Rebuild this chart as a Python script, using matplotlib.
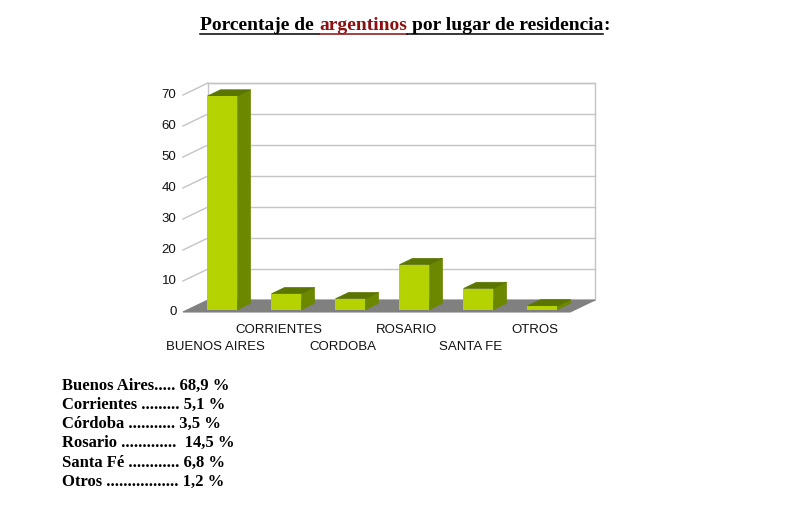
import matplotlib
matplotlib.use("Agg")
import matplotlib.pyplot as plt
from matplotlib.patches import Polygon, Rectangle

# ---- data ----
categories = ["BUENOS AIRES", "CORRIENTES", "CORDOBA", "ROSARIO", "SANTA FE", "OTROS"]
values = [68.9, 5.1, 3.5, 14.5, 6.8, 1.2]
yticks = [0, 10, 20, 30, 40, 50, 60, 70]
list_names = ["Buenos Aires", "Corrientes", "Córdoba", "Rosario", "Santa Fé", "Otros"]
list_seps = [".....", " .........", " ...........", " ............. ", " ............", " ................."]
title_parts = ["Porcentaje de", "argentinos", "por lugar de residencia", ":"]
title_joins = ["", " ", " ", ""]

# ---- style ----
FRONT = "#b4d300"
SIDE = "#6b8800"
TOP = "#5a7500"
FLOOR = "#808080"
GRID = "#c4c4c4"
RED = "#8b1010"

W, H = 800, 509
fig = plt.figure(figsize=(W / 100, H / 100), dpi=100)
fig.patch.set_facecolor("white")

# axes placement: x_px = 217.5 + 64*x ; y_px(top) = 312 - 3.1*v
xlim = (-1.2, 6.2)
ylim = (-2.0, 76.0)
px0, sx = 217.5, 64.0
py0, sy = 312.0, 3.1
left_px = px0 + sx * xlim[0]
right_px = px0 + sx * xlim[1]
top_px = py0 - sy * ylim[1]
bot_px = py0 - sy * ylim[0]
ax = fig.add_axes([left_px / W, 1 - bot_px / H, (right_px - left_px) / W, (bot_px - top_px) / H])
ax.set_xlim(*xlim)
ax.set_ylim(*ylim)
ax.axis("off")

ddx, ddy = 25 / sx, 12 / sy      # full depth vector
xl, xr = -0.54, 5.51             # front plane extents
vmax = yticks[-1]

# back wall
ax.add_patch(Rectangle((xl + ddx, ddy), xr - xl, vmax, facecolor="white",
                       edgecolor=GRID, lw=1, zorder=1))
for t in yticks[1:]:
    ax.plot([xl + ddx, xr + ddx], [t + ddy, t + ddy], color=GRID, lw=1, zorder=1.5)
# left wall lines
for t in yticks[1:]:
    ax.plot([xl, xl + ddx], [t, t + ddy], color=GRID, lw=1, zorder=1.5)
# floor
ax.add_patch(Polygon([(xl, 0), (xr, 0), (xr + ddx, ddy), (xl + ddx, ddy)],
                     closed=True, facecolor=FLOOR, edgecolor=FLOOR, lw=0.8, zorder=2))

# y tick labels
for t in yticks:
    ax.text(xl - 0.1, t, str(t), ha="right", va="center", fontsize=9.5,
            family="Liberation Sans", color="#111111")

# bars
f, b = 0.2, 0.72
bw = 30 / sx
xs = [i + f * ddx for i in range(len(values))]
bars = ax.bar(xs, values, width=bw, bottom=f * ddy, color=FRONT, zorder=4, linewidth=0)
dx, dy = (b - f) * ddx, (b - f) * ddy
for rect in bars:
    x0 = rect.get_x()
    x1 = x0 + rect.get_width()
    y0 = rect.get_y()
    y1 = y0 + rect.get_height()
    ax.add_patch(Polygon([(x1, y0), (x1 + dx, y0 + dy), (x1 + dx, y1 + dy), (x1, y1)],
                         closed=True, facecolor=SIDE, edgecolor=SIDE, lw=0.5, zorder=3))
    ax.add_patch(Polygon([(x0, y1), (x1, y1), (x1 + dx, y1 + dy), (x0 + dx, y1 + dy)],
                         closed=True, facecolor=TOP, edgecolor=TOP, lw=0.5, zorder=3))

# category labels (staggered)
for i, c in enumerate(categories):
    yv = -5.8 if i % 2 == 1 else -11.3
    ax.text(i - 0.04, yv, c, ha="center", va="center", fontsize=9.5,
            family="Liberation Sans", color="#111111")

# ---- title with coloured word and underline ----
renderer = fig.canvas.get_renderer()
tfont = dict(family="Liberation Serif", weight="bold", fontsize=14)

def measure(s):
    t = fig.text(0, 0, s, **tfont)
    w = t.get_window_extent(renderer).width
    t.remove()
    return w

xw = measure("x")
offsets, ends = [], []
acc = ""
for p, j in zip(title_parts, title_joins):
    acc += j
    offsets.append(measure(acc + "x") - xw if acc else 0.0)
    acc += p
    ends.append(measure(acc))
total_w = ends[-1]
start = 405 - total_w / 2
ty = 25
colors = ["black", RED, "black", "black"]
for p, off, col in zip(title_parts, offsets, colors):
    fig.text((start + off) / W, 1 - ty / H, p, color=col, ha="left", va="center", **tfont)
# underline (not under the colon)
ul_y = 1 - (ty + 9) / H
segs = [(0.0, offsets[1], "black"), (offsets[1], ends[1], RED), (ends[1], ends[2], "black")]
for a, e, col in segs:
    fig.add_artist(plt.Line2D([(start + a) / W, (start + e) / W], [ul_y, ul_y], color=col, lw=1.1))

# ---- bottom list ----
row_y = [386, 405, 424, 443, 463, 482]
for name, sep, v, yy in zip(list_names, list_seps, values, row_y):
    s = f"{name}{sep} " + f"{v:.1f}".replace(".", ",") + " %"
    fig.text(62 / W, 1 - yy / H, s, ha="left", va="center", family="Liberation Serif",
             weight="bold", fontsize=12, color="black")

fig.savefig("out.png", dpi=100)
